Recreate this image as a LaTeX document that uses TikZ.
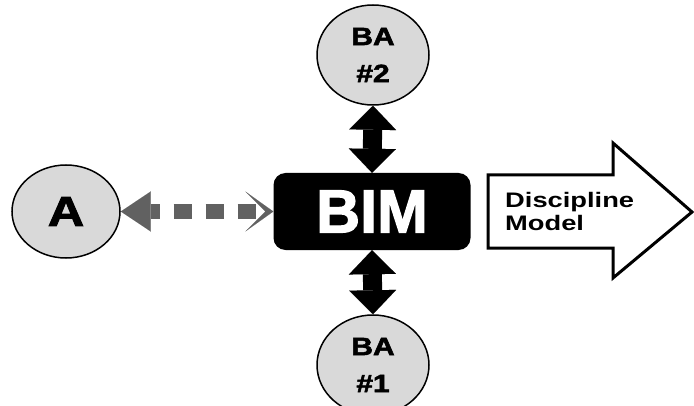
\documentclass[tikz,border=0pt]{standalone}
\usepackage{fontspec}
\setmainfont{Liberation Sans}
\newfontfamily\heavyfont[BoldFeatures={FakeBold=2}]{Liberation Sans}
\usetikzlibrary{arrows.meta,shapes.geometric}
\tikzstyle{bubble} = [draw=black, fill=black!15, line width=1.5pt,
    ellipse, inner sep=0pt, minimum width=112pt, minimum height=100pt,
    align=center, font=\heavyfont\fontsize{25}{37}\selectfont\bfseries]
\tikzstyle{bimbox} = [fill=black, rounded corners=12pt, inner sep=0pt,
    minimum width=197pt, minimum height=77pt, text=white,
    font=\heavyfont\fontsize{61}{61}\selectfont\bfseries]
\tikzstyle{linkarrow} = [line width=19pt,
    {Triangle[width=47pt,length=24pt,line width=0.01pt]}-{Triangle[width=47pt,length=24pt,line width=0.01pt]}]
\tikzstyle{accessarrow} = [line width=15pt, black!62,
    dash pattern=on 18pt off 14pt, dash phase=9pt,
    {Triangle[width=40pt,length=30pt,line width=0.01pt]}-{Stealth[width=40pt,length=28pt,inset=20pt,line width=0.01pt]}]
\tikzstyle{outarrow} = [draw=black, fill=white, line width=3pt, line join=miter]

\begin{document}
\begin{tikzpicture}[x=1pt, y=1pt]
\useasboundingbox (0,0) rectangle (694,405);
% nodes
\node [bimbox] (bim) at (372,193.5) {BIM};
\node [bubble, minimum width=108pt, minimum height=93pt,
    font=\heavyfont\fontsize{42}{42}\selectfont\bfseries] (a) at (66,193.5)
    {\scalebox{1.2}[1]{A}};
\node [bubble] (ba2) at (373,350)
    {\scalebox{1.2}[1]{BA}\\\scalebox{1.2}[1]{\#2}};
\node [bubble] (ba1) at (373,40)
    {\scalebox{1.2}[1]{BA}\\\scalebox{1.2}[1]{\#1}};
% connectors
\draw [linkarrow] (ba2.south) -- (bim.north);
\draw [linkarrow] (bim.south) -- (ba1.north);
\draw [accessarrow] (a.east) -- (bim.west);
% discipline model arrow
\draw [outarrow] (488,230) -- (613,230) -- (613,262) -- (692,193)
    -- (613,127) -- (613,157) -- (488,157) -- cycle;
\node [anchor=west, align=left, inner sep=0pt,
    font=\fontsize{21}{23}\selectfont\bfseries] (model) at (505,194)
    {\scalebox{1.3}[1]{Discipline}\\\scalebox{1.3}[1]{Model}};
\end{tikzpicture}
\end{document}
